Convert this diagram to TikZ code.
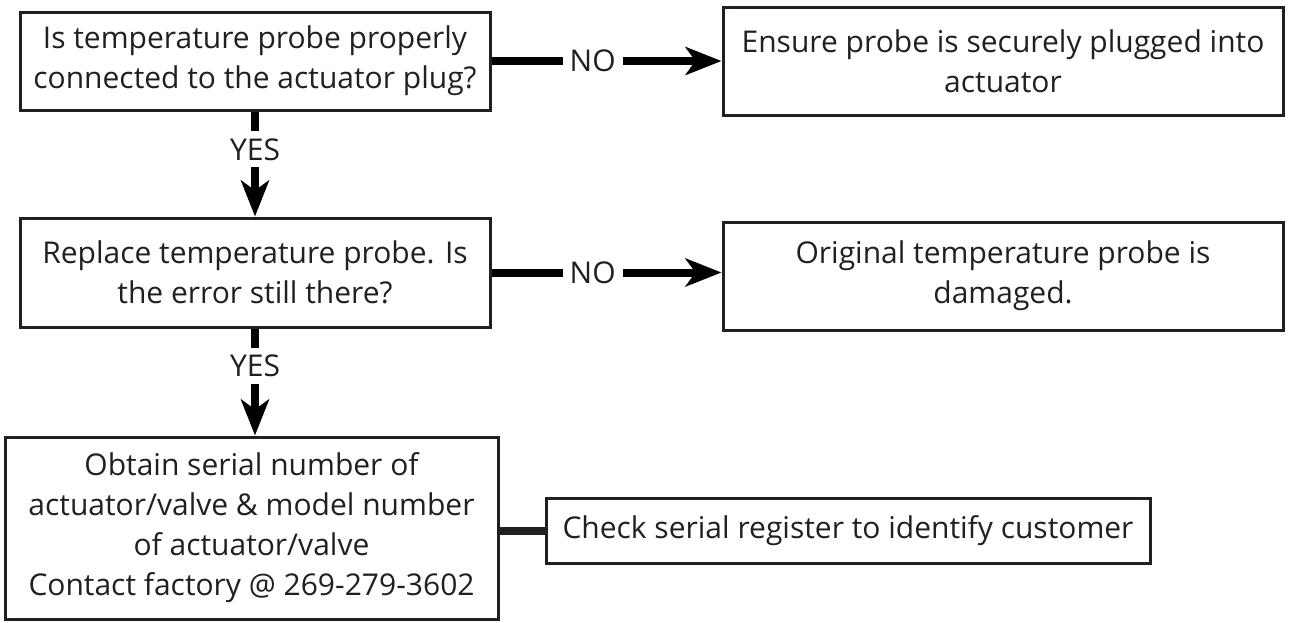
\documentclass[tikz,border=0pt]{standalone}
\usepackage{fontspec}
\setmainfont{Open Sans}
\usetikzlibrary{arrows.meta}
\definecolor{ink}{HTML}{231F20}
\tikzset{
  box/.style={draw=ink, line width=3pt, align=center, inner sep=0pt, text=ink, font=\fontsize{30}{40}\selectfont},
  flow/.style={draw=black, line width=8pt, -{Stealth[length=36pt, width=28pt, inset=10pt]}},
  answer/.style={fill=white, inner sep=7pt, text=ink, font=\fontsize{30}{32}\selectfont}
}
\begin{document}
\begin{tikzpicture}[x=1pt, y=-1pt]
    \useasboundingbox (0,0) rectangle (1301,622);

    \node at (255,61) [box,minimum height=98pt,minimum width=470pt] (probeok) {Is temperature probe properly\\connected to the actuator plug?};
    \node at (1003,61) [box,minimum height=108pt,minimum width=560pt] (plugin) {Ensure probe is securely plugged into\\actuator};

    \node at (255,272.5) [box,minimum height=109pt,minimum width=470pt] (replace) {Replace temperature probe. Is\\the error still there?};
    \node at (1003,276) [box,minimum height=108pt,minimum width=560pt] (damaged) {Original temperature probe is\\damaged.};

    \node at (251.5,528) [box,minimum height=182pt,minimum width=493pt] (factory) {Obtain serial number of\\actuator/valve \& model number\\of actuator/valve\\Contact factory @ 269-279-3602};
    \node at (848,530.5) [box,minimum height=65pt,minimum width=604pt] (register) {Check serial register to identify customer};

    \draw[flow] (probeok) -- node[answer,pos=0.44] {NO} (plugin);
    \draw[flow] (probeok) -- node[answer,pos=0.36] {YES} (replace);
    \draw[flow] (replace.east) -- node[answer,pos=0.44] {NO} (replace.east -| damaged.west);
    \draw[flow] (replace) -- node[answer,pos=0.35] {YES} (factory.north -| replace.south);
    \draw[draw=ink, line width=8pt] (register.west -| factory.east) -- (register.west);
\end{tikzpicture}
\end{document}
